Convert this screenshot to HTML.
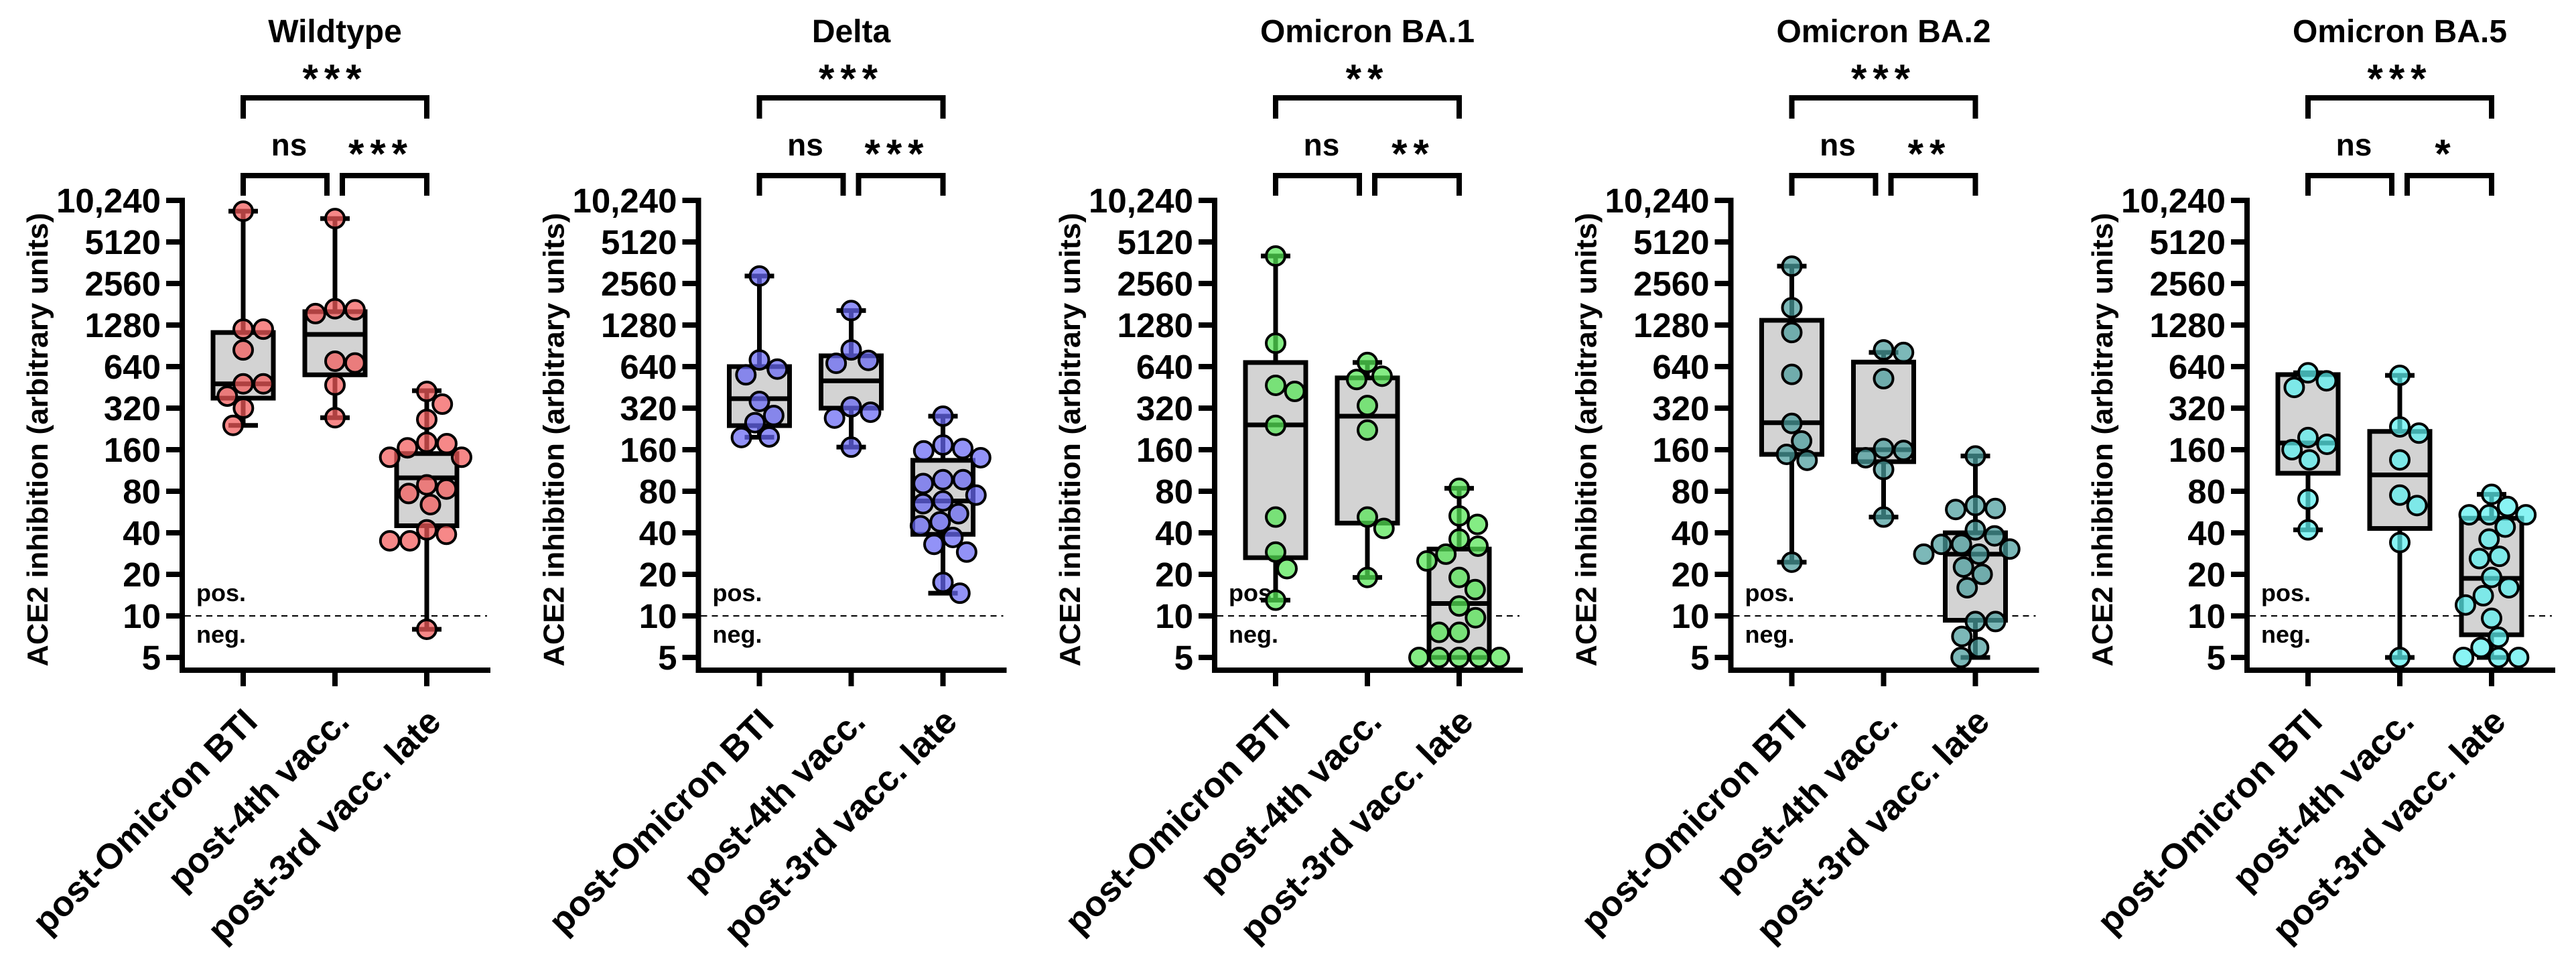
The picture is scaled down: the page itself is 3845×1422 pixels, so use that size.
<!DOCTYPE html>
<html><head><meta charset="utf-8"><style>
html,body{margin:0;padding:0;background:#fff;}
svg{display:block;font-family:"Liberation Sans",Arial,sans-serif;}
</style></head><body>
<svg id="chart" width="3845" height="1422" viewBox="0 0 3845 1422" xmlns="http://www.w3.org/2000/svg"></svg>
<script>
const panelTitles = ['Wildtype','Delta','Omicron BA.1','Omicron BA.2','Omicron BA.5'];
const sigTop = ['***','***','**','***','***'];
const sigLeft = ['ns','ns','ns','ns','ns'];
const sigRight = ['***','***','**','**','*'];
const categories = ['post-Omicron BTI','post-4th vacc.','post-3rd vacc. late'];
const yTickValues = [5,10,20,40,80,160,320,640,1280,2560,5120,10240];
const yTickLabels = ['5','10','20','40','80','160','320','640','1280','2560','5120','10,240'];
const cutoffValue = 10;

// Wildtype
const wtBTI = [8550,1195,1195,845,480,480,391,320,240];
const wt4th = [7560,1650,1680,1550,680,700,470,273];
const wt3rd = [423,342,265,177,165,181,141,141,83,89,77,64,42,39,35,35,8];
const wtBox = [[240,378,480,1130,8550],[273,558,1094,1600,7560],[8,45,100,150,428]];
// Delta
const deBTI = [2900,715,614,558,358,283,251,196,198];
const de4th = [1630,845,710,676,327,299,271,167];
const de3rd = [280,173,163,157,140,97,97,91,75,65,68,55,45,48,37,33,29,17.5,14.6];
const deBox = [[197,239,375,640,2900],[167,320,505,766,1630],[14.6,39,68,134,280]];
// Omicron BA.1
const ba1BTI = [4050,945,468,423,240,52,29,22,13];
const ba14th = [685,545,516,334,222,52,43,19];
const ba13rd = [84,53,46,36,32,28,25,19,15.5,11.8,9.7,7.6,7.6,5,5,5,5,5];
const ba1Box = [[13,26.4,242,685,4050],[19,47,280,530,685],[5,5,12.3,30.5,84]];
// Omicron BA.2
const ba2BTI = [3420,1710,1130,562,248,185,148,134,24.5];
const ba24th = [845,810,523,158,163,140,115,52];
const ba23rd = [144,63,60,59,42,38,33,33,30.5,28,28,22.6,20,16,9.1,9.1,7.1,5.9,5];
const ba2Box = [[24.5,148,251,1385,3420],[52,131,160,690,810],[5,9.3,28,40,144]];
// Omicron BA.5
const ba5BTI = [577,505,452,175,160,196,135,70,42];
const ba54th = [553,234,211,135,75,63,34,5];
const ba53rd = [76,54,54,54,62,44,36,27,26,19,16,14,12,9.6,7,5.9,5,5,5];
const ba5Box = [[42,108,179,560,577],[5,43,105,217,553],[5,7.3,18.7,51,76]];

const panelPoints = [[wtBTI,wt4th,wt3rd],[deBTI,de4th,de3rd],[ba1BTI,ba14th,ba13rd],[ba2BTI,ba24th,ba23rd],[ba5BTI,ba54th,ba53rd]];
const panelBoxes = [wtBox,deBox,ba1Box,ba2Box,ba5Box];
const panelColors = ['#f25a5a','#6868f4','#55e655','#4a9d9d','#5cf0f0'];

const NS='http://www.w3.org/2000/svg';
const svg=document.getElementById('chart');
function mk(tag,attrs,parent){const e=document.createElementNS(NS,tag);for(const k in attrs)e.setAttribute(k,attrs[k]);(parent||svg).appendChild(e);return e;}

const Y5=981, PER=62;
function yScale(v){return Y5-PER*Math.log2(v/5);}

function beeswarm(vals,cx,d){
  const order=vals.map((v,i)=>i).sort((a,b)=>vals[b]-vals[a]);
  const placed=[];const res=new Array(vals.length);
  for(const i of order){
    const y=yScale(vals[i]);let c=[0];
    for(const p of placed){const dy=Math.abs(p.y-y);if(dy<d){const dx=Math.sqrt(d*d-dy*dy);c.push(p.x+dx,p.x-dx);}}
    c.sort((a,b)=>Math.abs(a)-Math.abs(b));
    let best=0;
    for(const x of c){if(placed.every(p=>(p.x-x)**2+(p.y-y)**2>=d*d-0.5)){best=x;break;}}
    placed.push({x:best,y});res[i]={x:cx+best,y};
  }
  return res;
}

for(let pi=0;pi<5;pi++){
  const ax=272+pi*770.5;
  const g=mk('g',{});
  
  
  const cats=[ax+91,ax+228,ax+365];
  const t=mk('text',{x:cats[1],y:63,'text-anchor':'middle','font-size':48,'font-weight':'bold'},g);
  t.textContent=panelTitles[pi];
  
  
  const br=mk('path',{d:`M${cats[0]},177 V146 H${cats[2]} V177`,fill:'none',stroke:'#000','stroke-width':8},g);
  
  
  const bl=mk('path',{d:`M${cats[0]},292 V262 H${cats[1]-12} V292`,fill:'none',stroke:'#000','stroke-width':8},g);
  
  
  const brr=mk('path',{d:`M${cats[1]+11},292 V262 H${cats[2]} V292`,fill:'none',stroke:'#000','stroke-width':8},g);
  
  
  const labs=[[sigTop[pi],cats[1],'sig-top',138],[sigLeft[pi],(cats[0]+cats[1])/2,'sig-left',232],[sigRight[pi],(cats[1]+cats[2])/2,'sig-right',250]];
  for(const [s,x,n,yb] of labs){
    const isStar=s.indexOf('*')>=0;
    const tt=mk('text',{x:x,y:isStar?yb:232,'text-anchor':'middle','font-size':isStar?60:46,'font-weight':'bold','letter-spacing':isStar?9:0},g);
    tt.textContent=s;
    
    
  }
  const yl=mk('line',{x1:ax,y1:295,x2:ax,y2:1004,stroke:'#000','stroke-width':8},g);
  
  
  const xl=mk('line',{x1:ax-4,y1:1000,x2:ax+460,y2:1000,stroke:'#000','stroke-width':8},g);
  
  
  yTickValues.forEach((v,i)=>{
    const y=yScale(v);
    const tk=mk('line',{x1:ax-24,y1:y,x2:ax,y2:y,stroke:'#000','stroke-width':8},g);
    
    
    const tl=mk('text',{x:ax-32,y:y+18,'text-anchor':'end','font-size':51,'font-weight':'bold'},g);
    tl.textContent=yTickLabels[i];
    
    
  });
  const yt=mk('text',{x:0,y:0,transform:`translate(${ax-201},656) rotate(-90)`,'text-anchor':'middle','font-size':44,'font-weight':'bold',textLength:677,lengthAdjust:'spacingAndGlyphs'},g);
  yt.textContent='ACE2 inhibition (arbitrary units)';
  
  
  const cy=yScale(cutoffValue);
  const cl=mk('line',{x1:ax+4,y1:cy,x2:ax+455,y2:cy,stroke:'#000','stroke-width':2,'stroke-dasharray':'9,7'},g);
  
  
  const pl=mk('text',{x:ax+21,y:cy-22,'font-size':36,'font-weight':'bold'},g);
  pl.textContent='pos.';
  
  
  const nl=mk('text',{x:ax+21,y:cy+40,'font-size':36,'font-weight':'bold'},g);
  nl.textContent='neg.';
  
  
  for(let c=0;c<3;c++){
    const cx=cats[c];
    const xt=mk('line',{x1:cx,y1:1000,x2:cx,y2:1024,stroke:'#000','stroke-width':8},g);
    
    
    const xlab=mk('text',{x:0,y:0,transform:`translate(${cx+24},1080) rotate(-45)`,'text-anchor':'end','font-size':53,'font-weight':'bold'},g);
    xlab.textContent=categories[c];
    
    
    const b=panelBoxes[pi][c];
    const yMin=yScale(b[0]),yQ1=yScale(b[1]),yMed=yScale(b[2]),yQ3=yScale(b[3]),yMax=yScale(b[4]);
    const wh=mk('path',{d:`M${cx},${yMax} V${yQ3} M${cx},${yQ1} V${yMin} M${cx-22},${yMax} H${cx+22} M${cx-22},${yMin} H${cx+22}`,stroke:'#000','stroke-width':7,fill:'none'},g);
    
    
    const bx=mk('rect',{x:cx-45,y:yQ3,width:90,height:Math.max(0,yQ1-yQ3),fill:'#d3d3d3',stroke:'#000','stroke-width':7},g);
    
    
    const md=mk('line',{x1:cx-45,y1:yMed,x2:cx+45,y2:yMed,stroke:'#000','stroke-width':7},g);
    
    
    const pts=beeswarm(panelPoints[pi][c],cx,30);
    for(const p of pts){
      const ci=mk('circle',{cx:p.x,cy:p.y,r:14,fill:panelColors[pi],'fill-opacity':0.72,stroke:'#000','stroke-width':4},g);
      
      
    }
  }
}
</script>
</body></html>
